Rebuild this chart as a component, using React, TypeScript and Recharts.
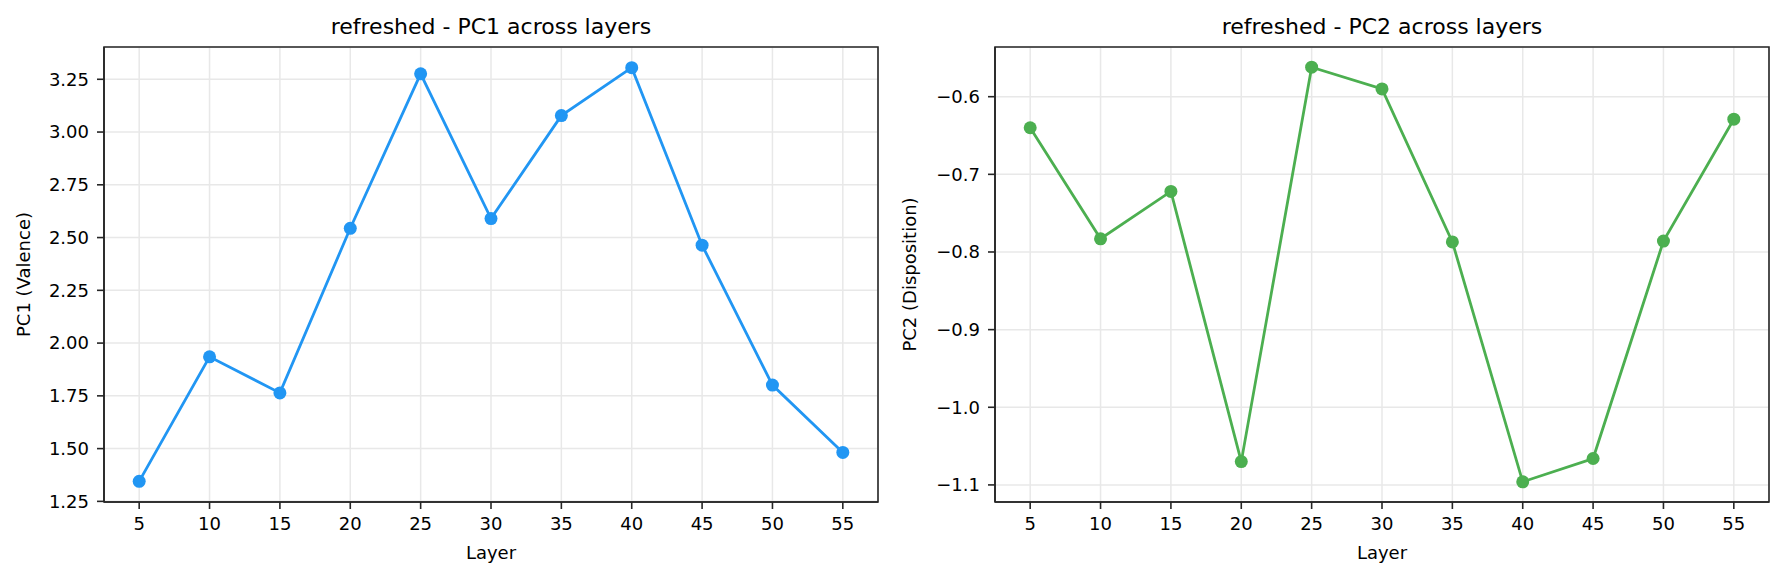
import React from "react";
import { LineChart, Line, XAxis, YAxis, CartesianGrid, ReferenceArea } from "recharts";

const layers = [5, 10, 15, 20, 25, 30, 35, 40, 45, 50, 55];
const pc1Values = [1.345, 1.935, 1.764, 2.544, 3.276, 2.59, 3.078, 3.305, 2.464, 1.801, 1.482];
const pc2Values = [-0.64, -0.783, -0.722, -1.07, -0.562, -0.59, -0.787, -1.096, -1.066, -0.786, -0.629];

const layerTicks = [5, 10, 15, 20, 25, 30, 35, 40, 45, 50, 55];
const pc1Ticks = [1.25, 1.5, 1.75, 2.0, 2.25, 2.5, 2.75, 3.0, 3.25];
const pc2Ticks = [-1.1, -1.0, -0.9, -0.8, -0.7, -0.6];

const X_DOMAIN: [number, number] = [2.5, 57.5];
const FONT = "DejaVu Sans, sans-serif";
const AXIS = "#262626";

const minus = (s: string) => s.replace("-", "\u2212");

interface PanelProps {
  values: number[];
  color: string;
  title: string;
  yLabel: string;
  yTicks: number[];
  yDomain: [number, number];
  decimals: number;
  labelOffset: number;
}

const Panel: React.FC<PanelProps> = ({
  values,
  color,
  title,
  yLabel,
  yTicks,
  yDomain,
  decimals,
  labelOffset,
}) => {
  const data = layers.map((layer, i) => ({ layer, value: values[i] }));
  const tickStyle = { fontSize: 18, fill: "#000", fontFamily: FONT };
  const line = { stroke: AXIS, strokeWidth: 1.6 };
  return (
    <LineChart
      width={892}
      height={581}
      data={data}
      margin={{ top: 47, right: 14, bottom: 39, left: 24 }}
    >
      <CartesianGrid stroke="#e8e8e8" strokeWidth={1.5} />
      <XAxis
        dataKey="layer"
        type="number"
        domain={X_DOMAIN}
        ticks={layerTicks}
        allowDataOverflow
        height={40}
        tickSize={7}
        tickMargin={8}
        tick={tickStyle}
        axisLine={line}
        tickLine={line}
        label={{
          value: "Layer",
          position: "bottom",
          offset: 4,
          style: { fontSize: 18, fill: "#000", fontFamily: FONT },
        }}
      />
      <YAxis
        type="number"
        domain={yDomain}
        ticks={yTicks}
        allowDataOverflow
        width={80}
        tickSize={7}
        tickMargin={8}
        tick={tickStyle}
        axisLine={line}
        tickLine={line}
        tickFormatter={(v: number) => minus(v.toFixed(decimals))}
        label={{
          value: yLabel,
          angle: -90,
          position: "insideLeft",
          offset: labelOffset,
          style: { fontSize: 18, fill: "#000", fontFamily: FONT, textAnchor: "middle" },
        }}
      />
      <ReferenceArea
        x1={X_DOMAIN[0]}
        x2={X_DOMAIN[1]}
        y1={yDomain[0]}
        y2={yDomain[1]}
        fill="none"
        fillOpacity={0}
        stroke={AXIS}
        strokeWidth={1.6}
        ifOverflow="extendDomain"
        label={{
          value: title,
          position: "top",
          offset: 13.5,
          style: { fontSize: 22, fill: "#000", fontFamily: FONT },
        }}
      />
      <Line
        dataKey="value"
        stroke={color}
        strokeWidth={2.8}
        dot={{ r: 6.5, fill: color, stroke: color, strokeWidth: 0 }}
        activeDot={false}
        isAnimationActive={false}
      />
    </LineChart>
  );
};

export default function App() {
  return (
    <div
      style={{
        position: "absolute",
        left: 0,
        top: 0,
        width: 1784,
        height: 581,
        background: "#fff",
      }}
    >
      <div style={{ position: "absolute", left: 0, top: 0 }}>
        <Panel
          values={pc1Values}
          color="#2196F3"
          title="refreshed - PC1 across layers"
          yLabel="PC1 (Valence)"
          yTicks={pc1Ticks}
          yDomain={[1.247, 3.403]}
          decimals={2}
          labelOffset={0}
        />
      </div>
      <div style={{ position: "absolute", left: 891, top: 0 }}>
        <Panel
          values={pc2Values}
          color="#4CAF50"
          title="refreshed - PC2 across layers"
          yLabel="PC2 (Disposition)"
          yTicks={pc2Ticks}
          yDomain={[-1.122, -0.536]}
          decimals={1}
          labelOffset={-5}
        />
      </div>
    </div>
  );
}
